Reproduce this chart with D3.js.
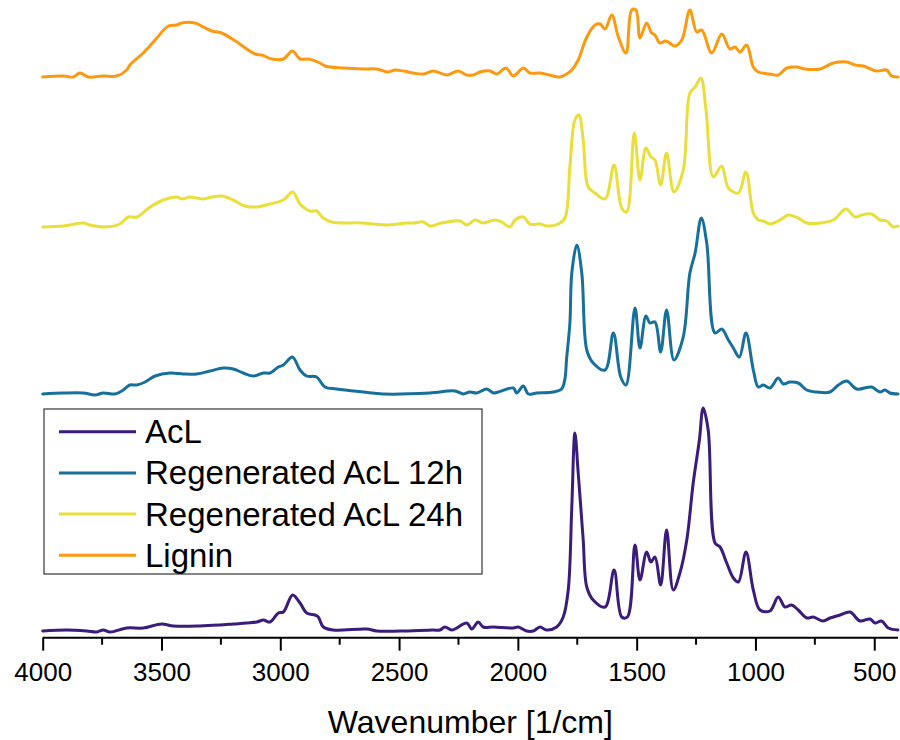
<!DOCTYPE html>
<html>
<head>
<meta charset="utf-8">
<script src="https://cdn.jsdelivr.net/npm/d3@7"></script>
<style>
  html, body { margin: 0; padding: 0; background: #ffffff; }
  svg { display: block; font-family: "Liberation Sans", Arial, sans-serif; }
</style>
</head>
<body>
<svg id="chart" width="900" height="740"></svg>
<script>
// FTIR spectra (absorbance, a.u.) versus wavenumber, stacked with vertical offsets.
const seriesNames = ["AcL", "Regenerated AcL 12h", "Regenerated AcL 24h", "Lignin"];
const seriesColors = ["#3b1b7c", "#17709c", "#e8df3a", "#fb9a10"];
const offsets = [0.06, 2.43, 4.10, 5.60];
const majorTicks = [4000, 3500, 3000, 2500, 2000, 1500, 1000, 500];
const minorTicks = [3750, 3250, 2750, 2250, 1750, 1250, 750];

const acl = [
  [4000,0.00],[3899,0.01],[3815,0.00],[3773,-0.01],[3745,0.01],[3717,-0.01],[3646,0.03],[3577,0.03],
  [3499,0.07],[3450,0.05],[3338,0.05],[3254,0.06],[3198,0.07],[3141,0.08],[3099,0.09],[3071,0.11],
  [3043,0.09],[3008,0.18],[2987,0.19],[2948,0.36],[2917,0.28],[2889,0.18],[2854,0.16],[2840,0.14],
  [2819,0.04],[2777,0.01],[2636,0.02],[2594,0.00],[2496,0.00],[2357,0.01],[2328,0.01],[2307,0.04],
  [2278,0.01],[2215,0.08],[2194,0.02],[2167,0.09],[2146,0.04],[2103,0.04],[2019,0.03],[1998,0.04],
  [1963,0.00],[1935,0.00],[1907,0.04],[1879,0.01],[1837,0.04],[1809,0.14],[1788,0.41],[1773,1.24],
  [1760,1.98],[1746,1.58],[1725,0.91],[1710,0.44],[1683,0.31],[1633,0.24],[1595,0.61],[1563,0.14],
  [1539,0.14],[1507,0.86],[1486,0.51],[1458,0.79],[1440,0.69],[1423,0.74],[1399,0.46],[1374,1.01],
  [1346,0.41],[1318,0.58],[1289,0.91],[1262,1.48],[1236,1.91],[1220,2.23],[1199,2.01],[1170,0.88],
  [1149,0.84],[1121,0.68],[1093,0.53],[1072,0.49],[1040,0.79],[1009,0.41],[981,0.21],[939,0.20],
  [904,0.34],[876,0.24],[848,0.26],[820,0.21],[784,0.13],[757,0.14],[715,0.10],[686,0.13],
  [644,0.16],[602,0.19],[560,0.10],[518,0.12],[497,0.08],[469,0.10],[441,0.03],[400,0.01]
];

const acl12h = [
  [4000,0.00],[3913,0.01],[3829,0.01],[3780,-0.01],[3745,0.01],[3696,0.00],[3661,0.04],[3633,0.09],
  [3604,0.09],[3569,0.12],[3527,0.18],[3464,0.21],[3408,0.20],[3352,0.20],[3296,0.23],[3240,0.26],
  [3198,0.25],[3156,0.21],[3114,0.18],[3071,0.21],[3043,0.21],[3008,0.27],[2987,0.29],[2949,0.37],
  [2917,0.24],[2889,0.18],[2847,0.17],[2812,0.07],[2763,0.05],[2651,0.02],[2566,0.00],[2370,0.01],
  [2265,0.03],[2230,0.00],[2202,0.02],[2173,0.01],[2131,0.05],[2103,0.01],[2082,0.02],[2019,0.06],
  [2005,0.01],[1977,0.08],[1956,0.00],[1921,0.01],[1851,0.02],[1816,0.05],[1802,0.15],[1795,0.35],
  [1781,0.71],[1773,1.21],[1752,1.49],[1731,1.21],[1710,0.44],[1683,0.31],[1633,0.24],[1598,0.61],
  [1567,0.17],[1545,0.09],[1507,0.86],[1486,0.46],[1461,0.78],[1444,0.71],[1423,0.72],[1399,0.42],
  [1374,0.84],[1343,0.34],[1304,0.57],[1276,1.21],[1254,1.41],[1228,1.76],[1205,1.51],[1170,0.61],
  [1142,0.65],[1114,0.54],[1093,0.46],[1068,0.37],[1040,0.61],[1009,0.24],[988,0.07],[967,0.09],
  [939,0.06],[904,0.16],[883,0.10],[855,0.12],[820,0.11],[784,0.04],[742,0.02],[686,0.02],
  [651,0.09],[616,0.13],[574,0.05],[511,0.07],[476,0.02],[455,0.04],[434,0.01],[400,0.00]
];

const acl24h = [
  [4000,0.00],[3913,0.01],[3829,0.04],[3801,0.02],[3738,0.00],[3675,0.03],[3640,0.10],[3604,0.10],
  [3548,0.20],[3492,0.27],[3436,0.30],[3415,0.28],[3380,0.30],[3324,0.28],[3289,0.30],[3247,0.31],
  [3198,0.27],[3149,0.21],[3099,0.20],[3043,0.23],[2987,0.27],[2948,0.35],[2917,0.23],[2875,0.16],
  [2847,0.16],[2819,0.09],[2784,0.05],[2651,0.04],[2545,0.02],[2468,0.04],[2440,0.04],[2398,0.05],
  [2370,0.01],[2321,0.04],[2244,0.06],[2215,0.02],[2180,0.07],[2146,0.04],[2096,0.07],[2068,0.05],
  [2033,0.00],[2012,0.07],[1977,0.10],[1949,0.03],[1907,0.03],[1879,0.01],[1830,0.03],[1802,0.09],
  [1781,0.60],[1760,1.07],[1743,1.12],[1725,0.87],[1704,0.40],[1675,0.34],[1633,0.28],[1595,0.62],
  [1563,0.19],[1542,0.15],[1510,0.94],[1486,0.47],[1461,0.79],[1440,0.70],[1423,0.67],[1399,0.42],
  [1374,0.74],[1343,0.35],[1304,0.57],[1276,1.34],[1254,1.40],[1230,1.49],[1208,1.17],[1177,0.50],
  [1142,0.61],[1114,0.39],[1072,0.34],[1040,0.55],[1009,0.14],[988,0.07],[967,0.06],[939,0.03],
  [897,0.07],[862,0.12],[820,0.09],[784,0.04],[728,0.04],[672,0.07],[619,0.18],[581,0.10],
  [553,0.12],[511,0.13],[476,0.07],[448,0.06],[420,0.00],[400,0.01]
];

const lignin = [
  [4000,0.00],[3913,0.01],[3871,0.00],[3843,0.04],[3808,0.00],[3745,0.01],[3689,0.01],[3646,0.07],
  [3633,0.12],[3577,0.24],[3527,0.37],[3471,0.51],[3436,0.52],[3415,0.54],[3359,0.54],[3324,0.50],
  [3289,0.46],[3247,0.44],[3183,0.35],[3106,0.23],[3078,0.22],[3036,0.18],[2987,0.18],[2949,0.26],
  [2917,0.18],[2882,0.18],[2833,0.14],[2812,0.11],[2735,0.09],[2651,0.08],[2594,0.08],[2545,0.05],
  [2517,0.07],[2482,0.06],[2440,0.04],[2398,0.03],[2356,0.06],[2300,0.02],[2251,0.06],[2215,0.02],
  [2188,0.02],[2159,0.05],[2117,0.06],[2089,0.03],[2050,0.09],[2019,0.01],[1977,0.09],[1949,0.04],
  [1907,0.04],[1851,0.01],[1823,0.00],[1795,0.03],[1773,0.07],[1746,0.17],[1710,0.40],[1675,0.52],
  [1654,0.53],[1633,0.48],[1605,0.62],[1577,0.40],[1545,0.24],[1521,0.67],[1503,0.67],[1486,0.39],
  [1458,0.54],[1437,0.44],[1423,0.42],[1402,0.34],[1377,0.36],[1339,0.31],[1310,0.37],[1276,0.67],
  [1247,0.45],[1226,0.47],[1184,0.24],[1142,0.43],[1107,0.28],[1086,0.30],[1065,0.25],[1037,0.32],
  [1009,0.10],[988,0.05],[939,0.03],[904,0.02],[868,0.09],[826,0.10],[791,0.08],[728,0.08],
  [672,0.14],[616,0.15],[581,0.12],[546,0.11],[490,0.06],[448,0.07],[427,0.01],[400,0.00]
];

const spectra = [acl, acl12h, acl24h, lignin];

const svg = d3.select("#chart");

const x = d3.scaleLinear().domain([4000, 400]).range([42.7, 898]);
const y = d3.scaleLinear().domain([0, 6.27]).range([637, 10]);
const axisY = 637.7;

// spectra
const line = d3.line()
  .x(d => x(d[0]))
  .curve(d3.curveCatmullRom.alpha(0.5));

spectra.forEach((s, i) => {
  svg.append("path")
    .datum(s)
    .attr("fill", "none")
    .attr("stroke", seriesColors[i])
    .attr("stroke-width", 3)
    .attr("stroke-linejoin", "round")
    .attr("stroke-linecap", "round")
    .attr("d", line.y(d => y(d[1] + offsets[i])));
});

// bottom axis with major labelled ticks
const axisG = svg.append("g")
  .attr("transform", `translate(0,${axisY})`)
  .call(d3.axisBottom(x)
    .tickValues(majorTicks)
    .tickFormat(d3.format("d"))
    .tickSize(13)
    .tickSizeOuter(0)
    .tickPadding(12));

axisG.select(".domain")
  .attr("stroke", "#000")
  .attr("stroke-width", 2)
  .attr("d", `M${x(4000)},0H${x(400)}`);
axisG.selectAll(".tick line").attr("stroke", "#000").attr("stroke-width", 2);
axisG.selectAll(".tick text")
  .attr("fill", "#000")
  .style("font-size", "26px")
  .style("font-family", "'Liberation Sans', Arial, sans-serif");

// minor ticks
svg.append("g")
  .attr("transform", `translate(0,${axisY})`)
  .selectAll("line")
  .data(minorTicks)
  .join("line")
  .attr("x1", d => x(d)).attr("x2", d => x(d))
  .attr("y1", 0).attr("y2", 7)
  .attr("stroke", "#000")
  .attr("stroke-width", 2);

// axis title
svg.append("text")
  .attr("x", (x(4000) + x(400)) / 2)
  .attr("y", 733)
  .attr("text-anchor", "middle")
  .style("font-size", "32px")
  .attr("fill", "#000")
  .text("Wavenumber [1/cm]");

// legend
const legend = svg.append("g");
legend.append("rect")
  .attr("x", 44).attr("y", 409)
  .attr("width", 438).attr("height", 165)
  .attr("fill", "#fff")
  .attr("stroke", "#444")
  .attr("stroke-width", 1.3);

const rowY = d3.scalePoint().domain(seriesNames).range([443.3, 566.7]);
seriesNames.forEach((name, i) => {
  const by = rowY(name);
  legend.append("line")
    .attr("x1", 59).attr("x2", 136)
    .attr("y1", by - 11.5).attr("y2", by - 11.5)
    .attr("stroke", seriesColors[i])
    .attr("stroke-width", 3);
  legend.append("text")
    .attr("x", 145).attr("y", by)
    .style("font-size", "33px")
    .attr("fill", "#000")
    .text(name);
});
</script>
</body>
</html>
